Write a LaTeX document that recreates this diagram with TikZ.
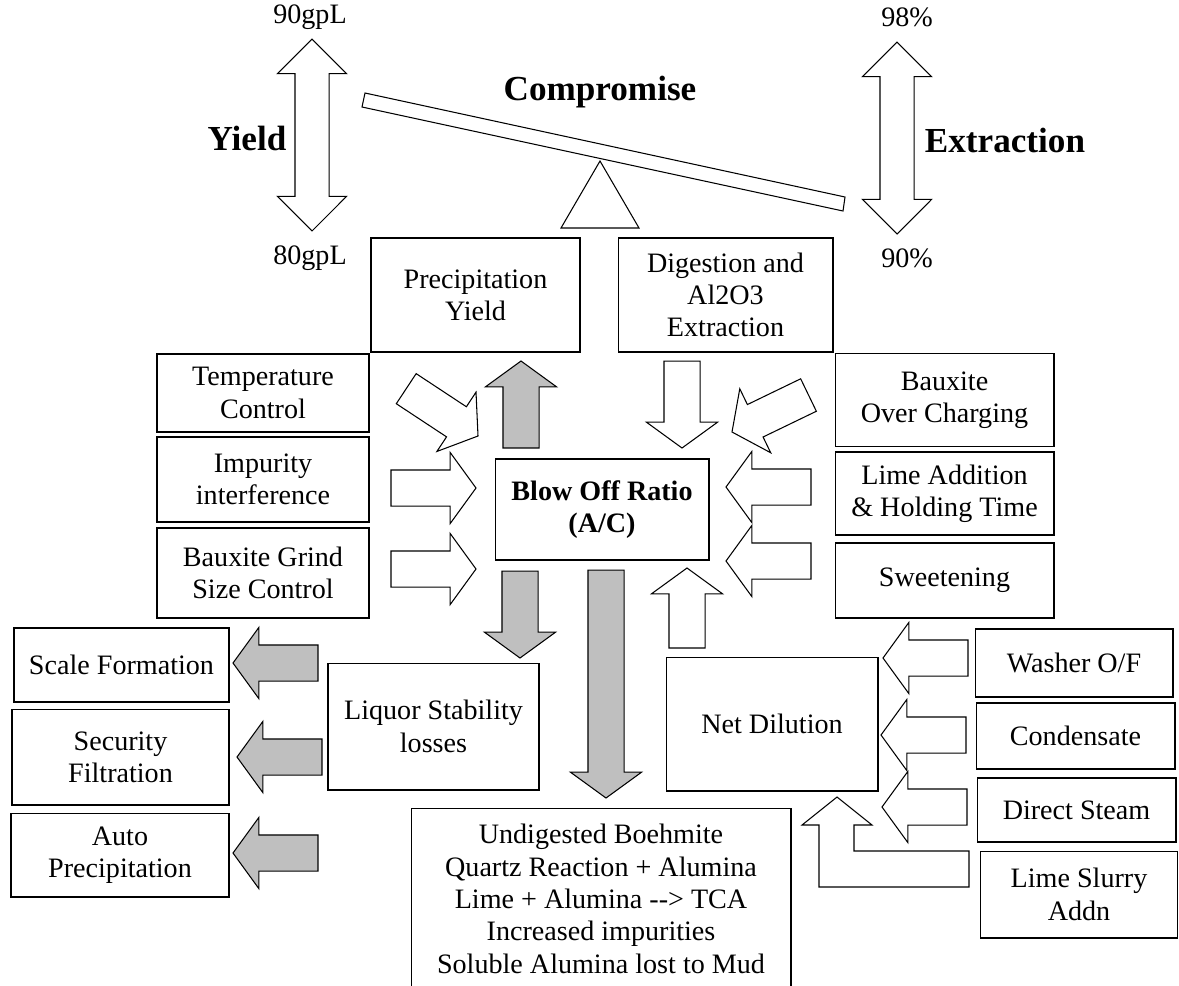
\documentclass[tikz,border=0pt]{standalone}
\usepackage{fontspec}
\setmainfont{Liberation Serif}
\usetikzlibrary{positioning,shapes.arrows}
\definecolor{arrgrey}{RGB}{191,191,191}

\begin{document}
\begin{tikzpicture}[x=0.02cm,y=-0.02cm,line width=0.6pt,
  box/.style={rectangle,draw,align=center,inner sep=0pt,font=\fontsize{16}{18.4}\selectfont},
  fat/.style={single arrow,draw,fill=white,inner sep=0pt,outer sep=0pt,minimum width=0pt,anchor=tip,
    inner ysep=0.35cm,single arrow head extend=0.35cm,single arrow tip angle=108,minimum height=1.7cm},
  fatgrey/.style={fat,fill=arrgrey},
  updown/.style={double arrow,draw,fill=white,inner sep=0pt,outer sep=0pt,minimum width=0pt,
    inner ysep=0.33cm,double arrow head extend=0.35cm,double arrow tip angle=90,minimum height=3.84cm,rotate=90},
  valtxt/.style={font=\fontsize{16}{18.4}\selectfont},
  bigtxt/.style={font=\fontsize{20}{24}\selectfont\bfseries}]
\useasboundingbox (0,0) rectangle (1179,985);

% balance
\draw[fill=white] (365,93) -- (845,197) -- (843,211) -- (362,107) -- cycle;
\draw[fill=white] (600,161) -- (639,228) -- (561,228) -- cycle;
\node[bigtxt] (comp) at (600,92) {Compromise};

\node[updown] (yarr) at (312,135) {};
\node[bigtxt] (yield) at (247,138) {Yield};
\node[valtxt] (yhi) at (310,17) {90gpL};
\node[valtxt] (ylo) at (310,258) {80gpL};

\node[updown] (earr) at (897,138) {};
\node[bigtxt] (extr) at (1005,140) {Extraction};
\node[valtxt] (ehi) at (907,17) {98\%};
\node[valtxt] (elo) at (907,258) {90\%};

% boxes
\node[box,minimum width=4.18cm,minimum height=2.28cm] (precip) at (475.5,295) {Precipitation\\Yield};
\node[box,minimum width=4.3cm,minimum height=2.28cm] (digest) at (725.5,295) {Digestion and\\Al2O3\\Extraction};
\node[box,minimum width=4.24cm,minimum height=1.56cm] (temp) at (263,393) {Temperature\\Control};
\node[box,minimum width=4.24cm,minimum height=1.7cm] (impur) at (263,479.5) {Impurity\\interference};
\node[box,minimum width=4.24cm,minimum height=1.8cm] (grind) at (263,573) {Bauxite Grind\\Size Control};
\node[box,minimum width=4.38cm,minimum height=1.86cm] (overch) at (944.5,400) {Bauxite\\Over Charging};
\node[box,minimum width=4.38cm,minimum height=1.66cm] (lime) at (944.5,493.5) {Lime Addition\\\& Holding Time};
\node[box,minimum width=4.38cm,minimum height=1.5cm] (sweet) at (944.5,580.5) {Sweetening};
\node[box,minimum width=4.28cm,minimum height=2.02cm] (blow) at (602,509.5) {\textbf{Blow Off Ratio}\\\textbf{(A/C)}};
\node[box,minimum width=4.3cm,minimum height=1.48cm] (scale) at (121.5,665) {Scale Formation};
\node[box,minimum width=4.34cm,minimum height=1.92cm] (secur) at (120.5,757) {Security\\Filtration};
\node[box,minimum width=4.36cm,minimum height=1.68cm] (autop) at (120,855) {Auto\\Precipitation};
\node[box,minimum width=4.22cm,minimum height=2.54cm] (liquor) at (433.5,726.5) {Liquor Stability\\losses};
\node[box,minimum width=4.24cm,minimum height=2.68cm] (netdil) at (772,724) {Net Dilution};
\node[box,minimum width=3.96cm,minimum height=1.36cm] (washer) at (1074,663) {Washer O/F};
\node[box,minimum width=3.98cm,minimum height=1.32cm] (conden) at (1075.5,736) {Condensate};
\node[box,minimum width=3.98cm,minimum height=1.28cm] (steam) at (1076.5,810) {Direct Steam};
\node[box,minimum width=3.94cm,minimum height=1.74cm] (slurry) at (1079,894.5) {Lime Slurry\\Addn};
\node[box,minimum width=7.6cm,minimum height=3.64cm] (undig) at (601,899) {Undigested Boehmite\\Quartz Reaction + Alumina\\Lime + Alumina {-}{-}> TCA\\Increased impurities\\Soluble Alumina lost to Mud};

% arrows round the ratio
\node[fatgrey,rotate=90,minimum height=1.74cm] (aprec) at (521,361) {};
\node[fat,rotate=-90,minimum height=1.74cm] (adig) at (682,448) {};
\node[fat,rotate=-33.4,minimum height=1.72cm] (atemp) at (478,436) {};
\node[fat] (aimpur) at (476,488) {};
\node[fat] (agrind) at (476,569) {};
\node[fat,rotate=-154.2] (aoverch) at (732,432) {};
\node[fat,rotate=180] (alime) at (726,487) {};
\node[fat,rotate=180] (asweet) at (726,561) {};
\node[fat,rotate=90,minimum height=1.6cm] (anetdil) at (687,568) {};
\node[fatgrey,rotate=-90,minimum height=1.74cm] (aliquor) at (520,658) {};
\node[fatgrey,rotate=-90,minimum height=4.56cm] (aundig) at (606,798) {};

% losses and dilution inputs
\node[fatgrey,rotate=180] (ascale) at (233,663) {};
\node[fatgrey,rotate=180] (asecur) at (237,757) {};
\node[fatgrey,rotate=180] (aautop) at (233,853) {};
\node[fat,rotate=180] (awasher) at (883,658) {};
\node[fat,rotate=180] (aconden) at (881,735) {};
\node[fat,rotate=180] (asteam) at (882,807) {};
\draw[fill=white] (969,851) -- (854,851) -- (854,825) -- (872,825) -- (837,797)
  -- (802,825) -- (819,825) -- (819,887) -- (969,887) -- cycle;
\end{tikzpicture}
\end{document}
